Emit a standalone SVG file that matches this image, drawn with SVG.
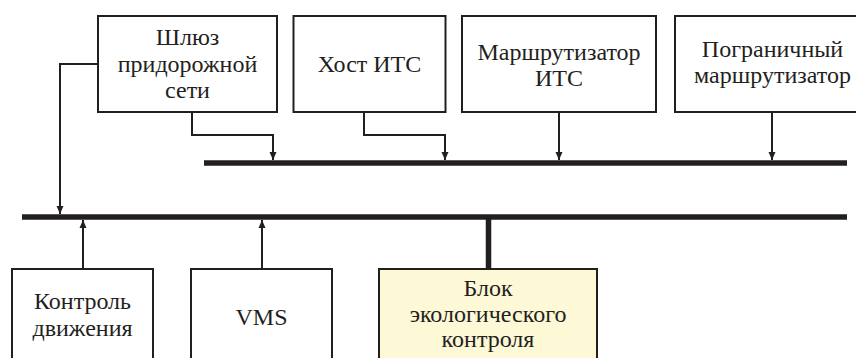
<svg xmlns="http://www.w3.org/2000/svg" width="856" height="358" viewBox="0 0 856 358">
  <defs>
    <marker id="arr" viewBox="0 0 8 14" refX="8" refY="7" markerWidth="8" markerHeight="14" markerUnits="userSpaceOnUse" orient="auto">
      <path d="M0,3.5 L8,7 L0,10.5 Z" fill="#231f20"/>
    </marker>
  </defs>
  <rect width="856" height="358" fill="#ffffff"/>

  <g id="connectors" fill="none" stroke="#231f20">
    <line stroke-width="5.5" x1="204" y1="163" x2="847" y2="163"/>
    <line stroke-width="5.5" x1="22" y1="217" x2="847" y2="217"/>
    <path stroke-width="2" d="M98,64 H60 V214" marker-end="url(#arr)"/>
    <path stroke-width="2" d="M192,112 V135 H273 V160" marker-end="url(#arr)"/>
    <path stroke-width="2" d="M364,112 V135 H445 V160" marker-end="url(#arr)"/>
    <path stroke-width="2" d="M559,112 V160" marker-end="url(#arr)"/>
    <path stroke-width="2" d="M772,112 V160" marker-end="url(#arr)"/>
    <path stroke-width="2" d="M83,269 V220" marker-end="url(#arr)"/>
    <path stroke-width="2" d="M262,269 V220" marker-end="url(#arr)"/>
    <line stroke-width="5.5" x1="488.5" y1="217" x2="488.5" y2="269"/>
  </g>

  <g id="gateway">
    <rect fill="#ffffff" stroke="#231f20" stroke-width="2" x="98" y="16" width="179" height="96"/>
    <text font-family="Liberation Serif" font-size="24" fill="#231f20" text-anchor="middle" x="187.5" y="45">Шлюз</text>
    <text font-family="Liberation Serif" font-size="24" fill="#231f20" text-anchor="middle" x="187.5" y="71.5">придорожной</text>
    <text font-family="Liberation Serif" font-size="24" fill="#231f20" text-anchor="middle" x="187.5" y="97.5">сети</text>
  </g>

  <g id="host">
    <rect fill="#ffffff" stroke="#231f20" stroke-width="2" x="293.5" y="16" width="152" height="96"/>
    <text font-family="Liberation Serif" font-size="24" fill="#231f20" text-anchor="middle" x="369.5" y="72">Хост ИТС</text>
  </g>

  <g id="router">
    <rect fill="#ffffff" stroke="#231f20" stroke-width="2" x="462" y="16" width="194" height="96"/>
    <text font-family="Liberation Serif" font-size="24" fill="#231f20" text-anchor="middle" x="559" y="60">Маршрутизатор</text>
    <text font-family="Liberation Serif" font-size="24" fill="#231f20" text-anchor="middle" x="559" y="85.5">ИТС</text>
  </g>

  <g id="border-router">
    <rect fill="#ffffff" stroke="#231f20" stroke-width="2" x="675" y="16" width="200" height="96"/>
    <text font-family="Liberation Serif" font-size="24" fill="#231f20" text-anchor="middle" x="772.5" y="56.5">Пограничный</text>
    <text font-family="Liberation Serif" font-size="24" fill="#231f20" text-anchor="middle" x="772.5" y="82.5">маршрутизатор</text>
  </g>

  <g id="traffic-control">
    <rect fill="#ffffff" stroke="#231f20" stroke-width="2" x="12" y="269" width="141" height="110"/>
    <text font-family="Liberation Serif" font-size="24" fill="#231f20" text-anchor="middle" x="82.5" y="308.5">Контроль</text>
    <text font-family="Liberation Serif" font-size="24" fill="#231f20" text-anchor="middle" x="82.5" y="336">движения</text>
  </g>

  <g id="vms">
    <rect fill="#ffffff" stroke="#231f20" stroke-width="2" x="191" y="269" width="141" height="110"/>
    <text font-family="Liberation Serif" font-size="24" fill="#231f20" text-anchor="middle" x="261.5" y="325">VMS</text>
  </g>

  <g id="eco-control">
    <rect fill="#fdf8d5" stroke="#231f20" stroke-width="2" x="379" y="269" width="218" height="110"/>
    <text font-family="Liberation Serif" font-size="24" fill="#231f20" text-anchor="middle" x="488" y="296">Блок</text>
    <text font-family="Liberation Serif" font-size="24" fill="#231f20" text-anchor="middle" x="488" y="321.5">экологического</text>
    <text font-family="Liberation Serif" font-size="24" fill="#231f20" text-anchor="middle" x="488" y="346.5">контроля</text>
  </g>
</svg>
